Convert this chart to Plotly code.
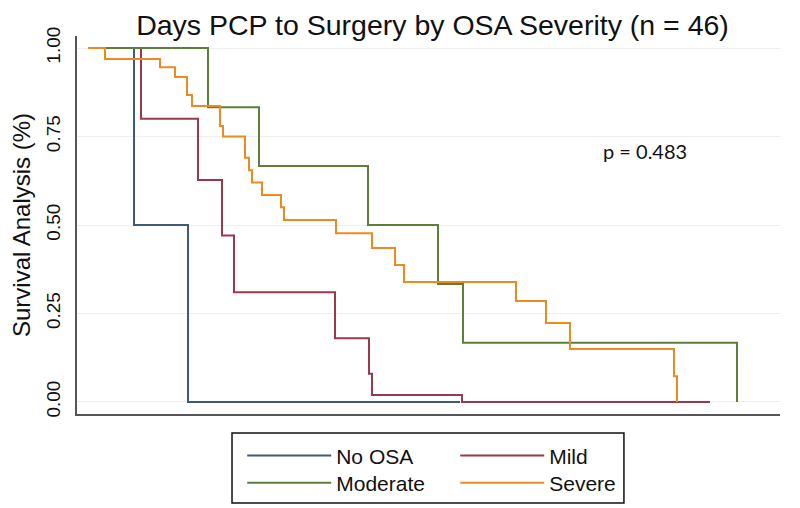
"""
Kaplan-Meier: days from PCP to surgery by OSA severity
"""

import plotly.graph_objects as go

# Survival steps (days, survival fraction) per group
no_osa_days = [0, 92, 200, 744]
no_osa_surv = [1.0, 0.5, 0.0, 0.0]

mild_days = [0, 106, 220, 268, 292, 494, 562, 568, 748, 1244]
mild_surv = [1.0, 0.80, 0.627, 0.47, 0.31, 0.18, 0.08, 0.02, 0.0, 0.0]

moderate_days = [0, 240, 342, 560, 700, 750, 1298]
moderate_surv = [1.0, 0.833, 0.667, 0.5, 0.333, 0.167, 0.0]

severe_days = [0, 34, 144, 174, 198, 208, 264, 270, 314, 322, 328, 348,
               386, 392, 496, 568, 614, 632, 856, 916, 964, 1172, 1178]
severe_surv = [1.0, 0.969, 0.946, 0.918, 0.867, 0.836, 0.78, 0.75, 0.69,
               0.655, 0.62, 0.585, 0.55, 0.514, 0.477, 0.435, 0.387, 0.339,
               0.285, 0.223, 0.15, 0.073, 0.0]

y_ticks = [0, 0.25, 0.5, 0.75, 1.0]
y_ticklabels = ['0.00', '0.25', '0.50', '0.75', '1.00']

p_text = 'p = 0.483'
p_pos = (1114, 0.709)

fig = go.Figure()

# Кривые по группам
fig.add_trace(go.Scatter(x=no_osa_days, y=no_osa_surv, mode='lines',
                         line={'color': '#3d5a78', 'width': 2, 'shape': 'hv'},
                         name='No OSA', legend='legend'))
fig.add_trace(go.Scatter(x=mild_days, y=mild_surv, mode='lines',
                         line={'color': '#983a4c', 'width': 2, 'shape': 'hv'},
                         name='Mild', legend='legend'))
fig.add_trace(go.Scatter(x=moderate_days, y=moderate_surv, mode='lines',
                         line={'color': '#5e7f38', 'width': 2, 'shape': 'hv'},
                         name='Moderate', legend='legend2'))
fig.add_trace(go.Scatter(x=severe_days, y=severe_surv, mode='lines',
                         line={'color': '#ec8a22', 'width': 2, 'shape': 'hv'},
                         name='Severe', legend='legend2'))

fig.add_annotation(x=p_pos[0], y=p_pos[1], text=p_text, showarrow=False,
                   font={'family': 'Lato', 'size': 20, 'color': '#111111'})

# Легенда в две строки (две легенды) + рамка вокруг
legend_common = dict(orientation='h', xanchor='left', yanchor='middle',
                     x=0.235, entrywidth=114, entrywidthmode='pixels',
                     itemwidth=84, borderwidth=0, bgcolor='rgba(0,0,0,0)',
                     font={'family': 'Liberation Sans', 'size': 21,
                           'color': '#111111'})

# страница добавляет отступ 8px, поэтому фигура 792x500
fig.update_layout(
    title={'text': 'Days PCP to Surgery by OSA Severity (n = 46)',
           'x': 0.536, 'xref': 'container', 'xanchor': 'center',
           'y': 0.966, 'yref': 'container', 'yanchor': 'middle',
           'font': {'family': 'Liberation Sans', 'size': 28.5,
                    'color': '#111111'}},
    width=792, height=500,
    margin={'l': 69, 'r': 20, 't': 28, 'b': 94, 'autoexpand': False},
    plot_bgcolor='white', paper_bgcolor='white',
    legend={**legend_common, 'y': -0.111},
    legend2={**legend_common, 'y': -0.1825},
    shapes=[{'type': 'rect', 'xref': 'paper', 'yref': 'paper',
             'x0': 0.2205, 'x1': 0.778, 'y0': -0.2354, 'y1': -0.0503,
             'line': {'color': '#111111', 'width': 1.5}}],
)

fig.update_xaxes(range=[-22, 1384], showticklabels=False, ticks='',
                 showgrid=False, zeroline=False, showline=True,
                 linecolor='#555555', linewidth=2, automargin=False)
fig.update_yaxes(range=[-0.034, 1.034], tickvals=y_ticks,
                 ticktext=y_ticklabels, tickangle=-90, ticks='',
                 ticklabelstandoff=7, automargin=False,
                 tickfont={'family': 'Liberation Sans', 'size': 19,
                           'color': '#111111'},
                 title={'text': 'Survival Analysis (%)', 'standoff': 30,
                        'font': {'family': 'Liberation Sans', 'size': 24,
                                 'color': '#111111'}},
                 showgrid=True, gridcolor='#eeeeee', gridwidth=1,
                 zeroline=False, showline=True, linecolor='#555555',
                 linewidth=2)

fig.write_html("out.html")
